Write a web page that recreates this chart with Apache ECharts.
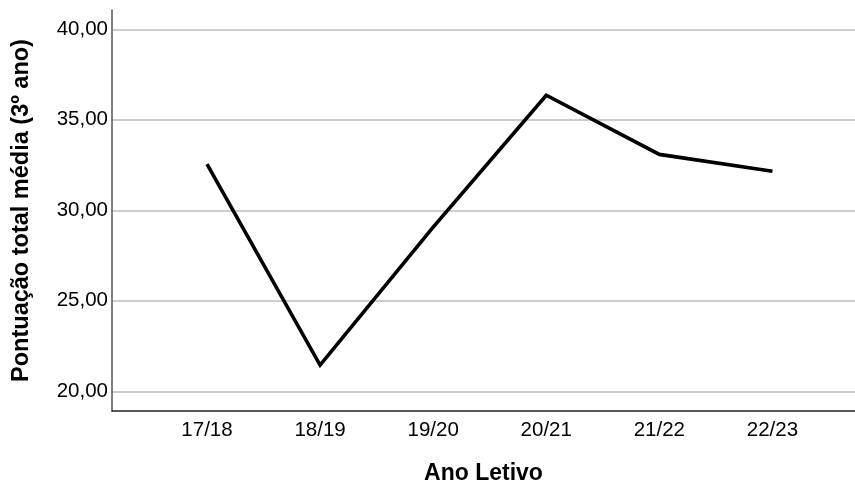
<!DOCTYPE html>
<html>
<head>
<meta charset="utf-8">
<script src="https://cdn.jsdelivr.net/npm/echarts@6/dist/echarts.min.js"></script>
<style>
html,body{margin:0;padding:0;background:#fff;}
#chart{width:855px;height:484px;}
</style>
</head>
<body>
<div id="chart"></div>
<script>
const categories = ['17/18', '18/19', '19/20', '20/21', '21/22', '22/23'];
const values = [32.55, 21.45, 29.07, 36.36, 33.09, 32.16];
const yTicks = [20, 25, 30, 35, 40];
const xTicks = [0, 1, 2, 3, 4, 5];
const yTitle = 'Pontuação total média (3º ano)';
const xTitle = 'Ano Letivo';

const chart = echarts.init(document.getElementById('chart'), null, {renderer: 'canvas'});
const font = '"Liberation Sans", Arial, sans-serif';
chart.setOption({
  animation: false,
  backgroundColor: '#ffffff',
  grid: {left: 112, right: 0, top: 10, bottom: 73, containLabel: false, outerBoundsMode: 'none'},
  xAxis: {
    type: 'value',
    min: -0.84,
    max: 5.73,
    name: xTitle,
    nameLocation: 'middle',
    nameGap: 51,
    nameTextStyle: {fontFamily: font, fontSize: 23, fontWeight: 'bold', color: '#000'},
    axisLine: {show: true, onZero: false, lineStyle: {color: '#222', width: 1.5}},
    axisTick: {show: false, customValues: xTicks},
    splitLine: {show: false},
    axisLabel: {
      customValues: xTicks,
      margin: 9,
      fontFamily: font, fontSize: 20.5, color: '#000',
      formatter: v => categories[Math.round(v)] || ''
    }
  },
  yAxis: {
    type: 'value',
    min: 18.91,
    max: 41.07,
    name: yTitle,
    nameLocation: 'middle',
    nameGap: 78,
    nameRotate: 90,
    nameTextStyle: {fontFamily: font, fontSize: 23.5, fontWeight: 'bold', color: '#000'},
    axisLine: {show: true, onZero: false, lineStyle: {color: '#555', width: 1.5}},
    axisTick: {show: false, customValues: yTicks},
    splitLine: {show: true, lineStyle: {color: '#bdbdbd', width: 1.5}},
    axisLabel: {
      customValues: yTicks,
      margin: 4,
      fontFamily: font, fontSize: 20.5, color: '#000',
      formatter: v => v.toFixed(2).replace('.', ',')
    }
  },
  series: [{
    type: 'line',
    data: values.map((v, i) => [xTicks[i], v]),
    symbol: 'none',
    lineStyle: {color: '#000', width: 3.6, join: 'miter', cap: 'butt'},
    silent: true
  }]
});
</script>
</body>
</html>
